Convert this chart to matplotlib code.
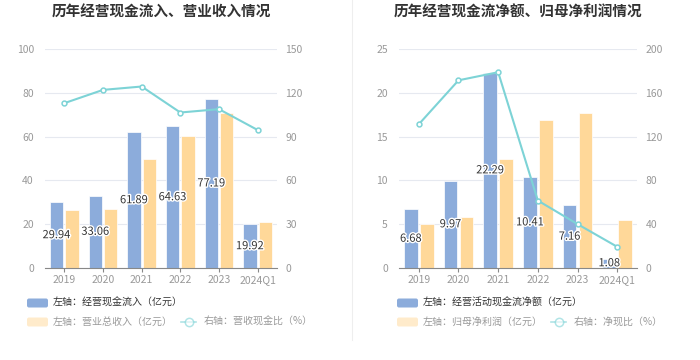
import matplotlib

matplotlib.use("Agg")
import matplotlib.pyplot as plt
import matplotlib.patheffects as pe
from matplotlib.patches import FancyBboxPatch
from matplotlib.lines import Line2D

plt.rcParams["font.family"] = ["Noto Sans CJK SC", "DejaVu Sans"]

years = ["2019", "2020", "2021", "2022", "2023", "2024Q1"]

# left panel
cash_inflow = [29.94, 33.06, 61.89, 64.63, 77.19, 19.92]
revenue = [26.3, 26.9, 49.6, 60.4, 70.6, 20.9]
cash_ratio = [112.9, 122.0, 124.3, 106.5, 108.8, 94.5]

# right panel
net_cash = [6.68, 9.97, 22.29, 10.41, 7.16, 1.08]
net_profit = [5.05, 5.77, 12.45, 16.84, 17.72, 5.5]
net_cash_ratio = [131.3, 171.4, 178.8, 61.6, 40.1, 19.4]

BLUE = "#8cacdb"
YELLOW = "#ffd899"
TEAL = "#7dd3d6"
GRID = "#e6e9f0"
TICK = "#999999"

W, H = 700, 360


def px_axes(fig, x0, x1, ytop, ybot):
    return fig.add_axes([x0 / W, (H - ybot) / H, (x1 - x0) / W, (ybot - ytop) / H])


def draw_panel(fig, x0, x1, title, bars_a, bars_b, line, lmax, rmax, step_l, step_r):
    ax = px_axes(fig, x0, x1, 49, 268)
    xs = list(range(len(years)))
    ax.bar([x - 0.2 for x in xs], bars_a, width=0.34, color=BLUE, edgecolor="white", linewidth=0.5, zorder=2)
    ax.bar([x + 0.2 for x in xs], bars_b, width=0.34, color=YELLOW, edgecolor="white", linewidth=0.5, zorder=2)
    for x, v in zip(xs, bars_a):
        ax.text(x - 0.2, v / 2, f"{v:.2f}", ha="center", va="center", fontsize=8, color="#333333", zorder=5,
                path_effects=[pe.withStroke(linewidth=2, foreground="white")])
    ax.set_xlim(-0.5, len(years) - 0.5)
    ax.set_ylim(0, lmax)
    ax.set_yticks(range(0, lmax + 1, step_l))
    ax.set_xticks(xs)
    ax.set_xticklabels(years)
    ax.grid(axis="y", color=GRID, linewidth=0.8, zorder=0)
    for s in ["top", "right", "left"]:
        ax.spines[s].set_visible(False)
    ax.spines["bottom"].set_color("#888888")
    ax.tick_params(axis="y", length=0, labelsize=7.5, labelcolor=TICK, pad=8)
    ax.tick_params(axis="x", length=3, color="#888888", labelsize=7.5, labelcolor=TICK, pad=2)

    ax2 = ax.twinx()
    ax2.plot(xs, line, color=TEAL, linewidth=1.5, marker="o", markersize=3.5,
             markerfacecolor="white", markeredgecolor=TEAL, markeredgewidth=1.1, zorder=4)
    ax2.set_ylim(0, rmax)
    ax2.set_yticks(range(0, rmax + 1, step_r))
    for s in ["top", "right", "left", "bottom"]:
        ax2.spines[s].set_visible(False)
    ax2.tick_params(axis="y", length=0, labelsize=7.5, labelcolor=TICK, pad=6)

    fig.text((x0 + x1) / 2 / W, (H - 12) / H, title, ha="center", va="center",
             fontsize=10.5, fontweight="bold", color="#333333")


def legend_item_patch(ov, x, y, color, alpha=1.0):
    ov.add_patch(FancyBboxPatch((x, y - 4.5), 21, 9, boxstyle="round,pad=0,rounding_size=2",
                                facecolor=color, edgecolor="none", alpha=alpha))


def legend_item_line(ov, x, y):
    ov.add_line(Line2D([x, x + 15], [y, y], color=TEAL, linewidth=1.2, alpha=0.6))
    ov.plot([x + 7.5], [y], marker="o", markersize=6, markerfacecolor="white",
            markeredgecolor=TEAL, markeredgewidth=1.1, alpha=0.6)


fig = plt.figure(figsize=(7, 3.6), dpi=100)

draw_panel(fig, 45, 277, "历年经营现金流入、营业收入情况", cash_inflow, revenue, cash_ratio, 100, 150, 20, 30)
draw_panel(fig, 399, 637, "历年经营现金流净额、归母净利润情况", net_cash, net_profit, net_cash_ratio, 25, 200, 5, 40)

ov = fig.add_axes([0, 0, 1, 1], zorder=-1)
ov.set_xlim(0, W)
ov.set_ylim(H, 0)
ov.axis("off")
ov.add_line(Line2D([352, 352], [0, 340], color="#eeeeee", linewidth=0.8))

fs = 7.2
dark, light = "#333333", "#999999"
# left legend
legend_item_patch(ov, 27, 303, BLUE)
ov.text(53, 303, "左轴：经营现金流入（亿元）", fontsize=fs, color=dark, va="center")
legend_item_patch(ov, 27, 322, YELLOW, alpha=0.5)
ov.text(53, 322, "左轴：营业总收入（亿元）", fontsize=fs, color=light, va="center")
legend_item_line(ov, 181, 322)
ov.text(204, 322, "右轴：营收现金比（%）", fontsize=fs, color=light, va="center")
# right legend
legend_item_patch(ov, 397, 303, BLUE)
ov.text(423, 303, "左轴：经营活动现金流净额（亿元）", fontsize=fs, color=dark, va="center")
legend_item_patch(ov, 397, 322, YELLOW, alpha=0.5)
ov.text(423, 322, "左轴：归母净利润（亿元）", fontsize=fs, color=light, va="center")
legend_item_line(ov, 551, 322)
ov.text(574, 322, "右轴：净现比（%）", fontsize=fs, color=light, va="center")

fig.savefig("out.png", dpi=100)
